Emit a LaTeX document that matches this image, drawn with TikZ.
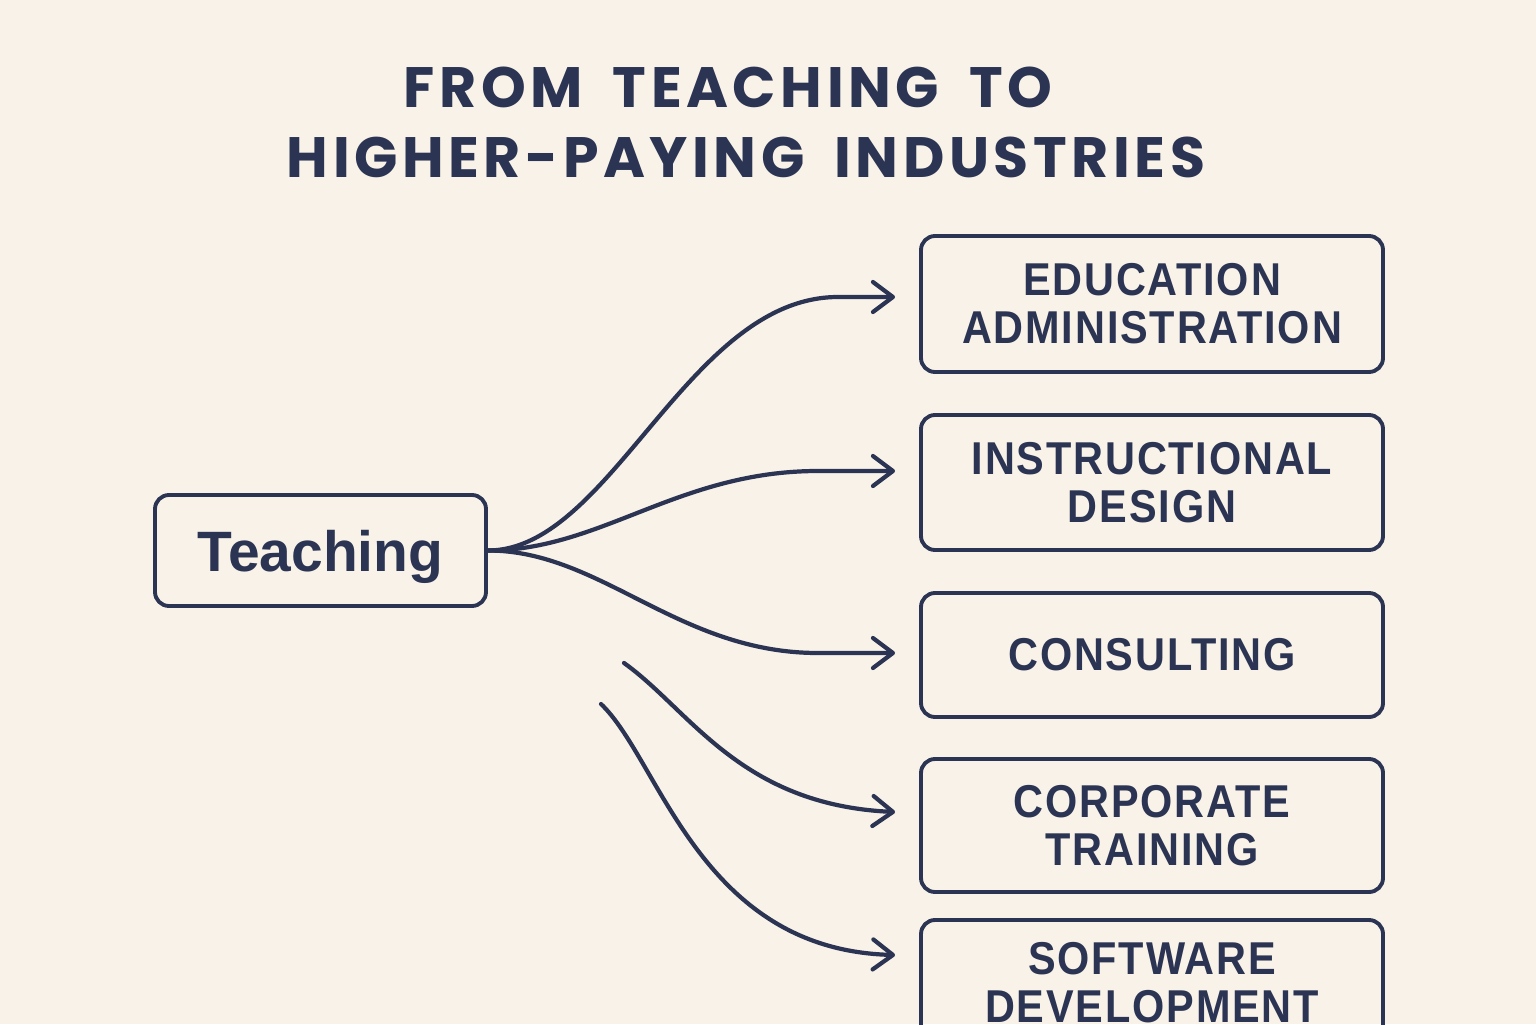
\documentclass[tikz,border=0pt]{standalone}
\usepackage{fontspec}
\usetikzlibrary{arrows.meta}
\newfontfamily\headfont[LetterSpace=8,WordSpace=1.8]{Poppins}
\newfontfamily\labelfont[LetterSpace=4,FakeStretch=0.9]{Liberation Sans}
\newfontfamily\startfont{Liberation Sans}
\definecolor{paper}{HTML}{F9F2E8}
\definecolor{ink}{HTML}{2B3452}

\begin{document}
\begin{tikzpicture}
        \tikzstyle{jobbox}=[draw=ink, line width=1.1pt, rounded corners=0.14cm, minimum width=4.62cm, inner sep=0pt, align=center, text=ink, font=\labelfont\bfseries\fontsize{13.1}{13.7}\selectfont];
        \tikzstyle{flow}=[draw=ink, line width=1.2pt, line cap=round, -{Straight Barb[length=2mm,width=3mm,round]}];
        \path[use as bounding box, fill=paper] (0,0) rectangle (15.36,10.24);
        \clip (0,0) rectangle (15.36,10.24);

        % title
        \node[anchor=base, text=ink, font=\headfont\bfseries\fontsize{16.2}{19}\selectfont] (title1) at (7.28,9.16) {FROM TEACHING TO};
        \node[anchor=base, text=ink, font=\headfont\bfseries\fontsize{16.2}{19}\selectfont] (title2) at (7.46,8.46) {HIGHER-PAYING INDUSTRIES};

        \node[draw=ink, line width=1.1pt, rounded corners=0.14cm, minimum width=3.31cm, minimum height=1.11cm, text depth=0pt, text=ink, font=\startfont\bfseries\fontsize{16.2}{19}\selectfont] (teach) at (3.205,4.735) {Teaching};

        \node[jobbox, minimum height=1.36cm] (edu) at (11.52,7.20) {EDUCATION\\ADMINISTRATION};
        \node[jobbox, minimum height=1.35cm] (instr) at (11.52,5.415) {INSTRUCTIONAL\\DESIGN};
        \node[jobbox, minimum height=1.24cm] (cons) at (11.52,3.69) {CONSULTING};
        \node[jobbox, minimum height=1.33cm] (corp) at (11.52,1.985) {CORPORATE\\TRAINING};
        \node[jobbox, minimum height=1.25cm] (soft) at (11.52,0.415) {SOFTWARE\\DEVELOPMENT};

        \draw[flow] (teach.east) .. controls +(1.23,0) and +(-1.5,0) .. ([xshift=-8.1mm,yshift=0.7mm]edu.west) -- ([xshift=-2.4mm,yshift=0.7mm]edu.west);
        \draw[flow] (teach.east) .. controls +(1.13,0) and +(-1.4,0) .. ([xshift=-10.1mm,yshift=1.15mm]instr.west) -- ([xshift=-2.4mm,yshift=1.15mm]instr.west);
        \draw[flow] (teach.east) .. controls +(1.13,0) and +(-1.4,0) .. ([xshift=-10.1mm,yshift=0.2mm]cons.west) -- ([xshift=-2.4mm,yshift=0.2mm]cons.west);

        % loose ends
        \coordinate (s4) at (6.24,3.61);
        \coordinate (s5) at (6.01,3.20);
        \draw[flow] (s4) .. controls (6.90,3.14) and (7.40,2.19) .. ([xshift=-2.4mm,yshift=1.35mm]corp.west);
        \draw[flow] (s5) .. controls (6.60,2.64) and (7.00,0.74) .. ([xshift=-2.4mm,yshift=2.75mm]soft.west);
\end{tikzpicture}
\end{document}
